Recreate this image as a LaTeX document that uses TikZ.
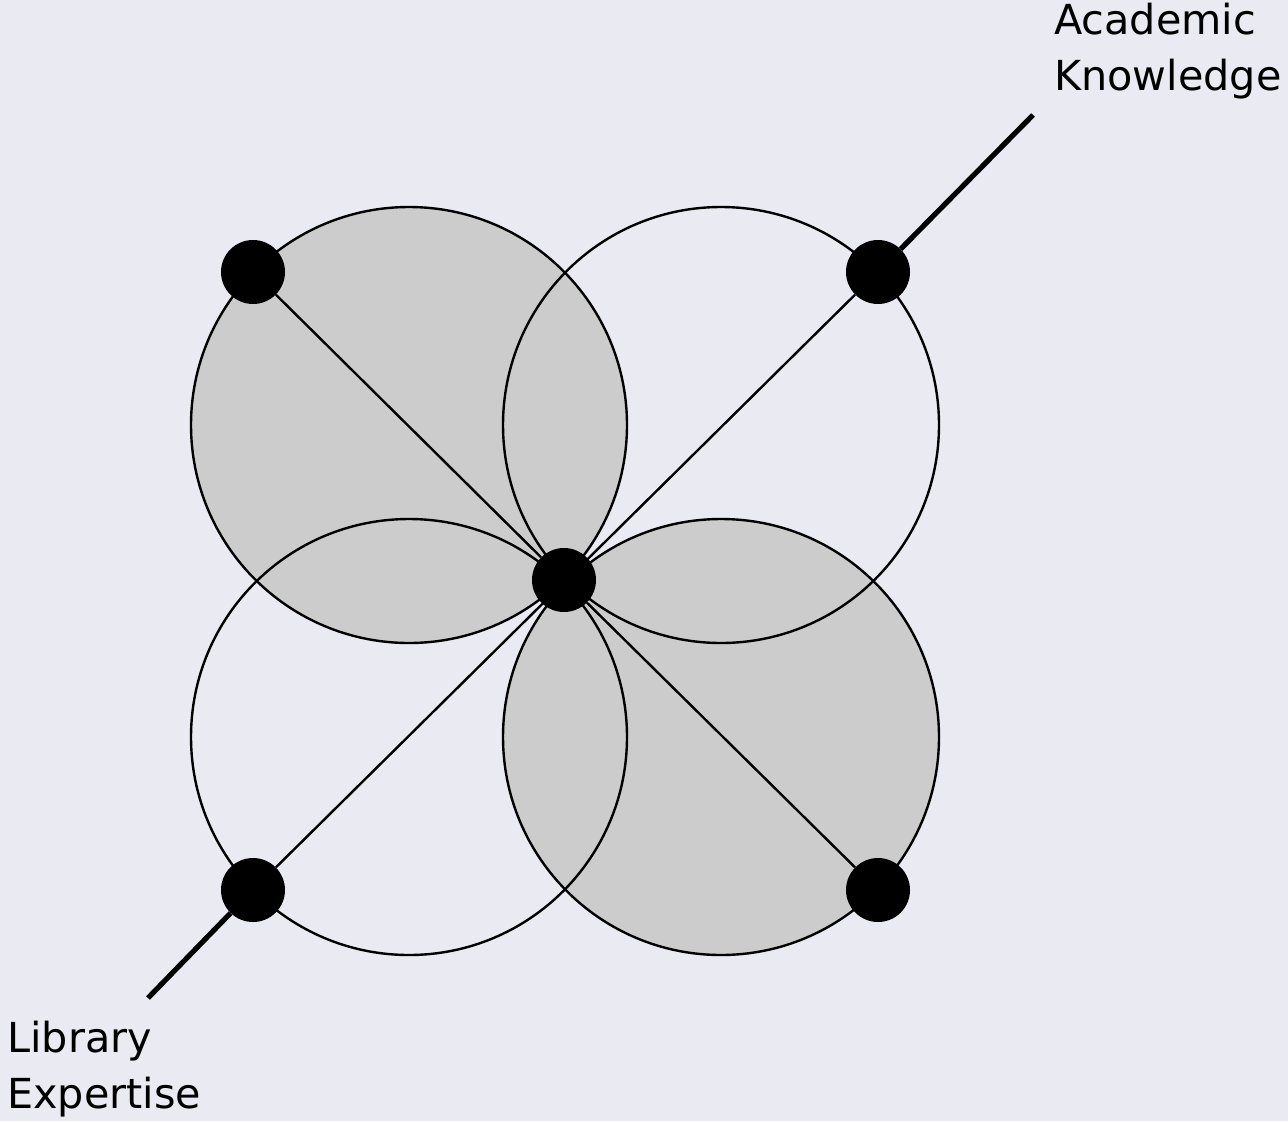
\documentclass[tikz,border=0pt]{standalone}
\usepackage{fontspec}
\setmainfont{DejaVu Sans}
\usepackage{tikz}
\usepackage{xcolor}
\usetikzlibrary{
  positioning, calc,
}
\definecolor{cBackdrop}{HTML}{EAEAF2}
\definecolor{cPetal}   {HTML}{CCCCCC}

\begin{document}
\begin{tikzpicture}[x=0.75pt, y=-0.75pt,
    knot/.style={circle, fill=black, inner sep=0pt, minimum size=48pt},
    rim/.style={draw=black, line width=1.8pt},
    spoke/.style={draw=black, line width=1.8pt},
    lead/.style={draw=black, line width=3.9pt},
    caption/.style={font=\fontsize{31}{42}\selectfont, align=left, inner sep=0pt}]
        \fill[cBackdrop] (0,0) rectangle (1288,1121);
        \useasboundingbox (0,0) rectangle (1288,1121);
        % shaded petals first, then every rim on top
        \foreach \cx/\cy in {409/425, 721/737}{
          \fill[cPetal] (\cx,\cy) circle[radius=218];
        }
        \foreach \cx/\cy in {409/425, 721/425, 409/737, 721/737}{
          \draw[rim] (\cx,\cy) circle[radius=218];
        }
        \node[knot] (hub) at (564,580) {};
        \node[knot] (tl)  at (253,272) {};
        \node[knot] (tr)  at (878,272) {};
        \node[knot] (bl)  at (253,890) {};
        \node[knot] (br)  at (878,890) {};
        \coordinate (acadTip) at (1033,115);
        \coordinate (libTip)  at (148,998);
        \draw[spoke] (tl) -- (hub) -- (br);
        \draw[spoke] (bl) -- (tr);
        \draw[lead] (tr) -- (acadTip);
        \draw[lead] (bl) -- (libTip);
        \node[caption, anchor=north west] (acad) at (1054,3) {Academic\\Knowledge};
        \node[caption, anchor=north west] (lib)  at (7,1021) {Library\\Expertise};
      \end{tikzpicture}
\end{document}
